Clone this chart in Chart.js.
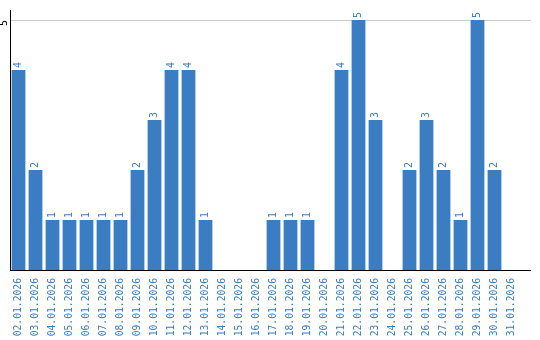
<!DOCTYPE html>
<html><head><meta charset="utf-8">
<script src="https://cdn.jsdelivr.net/npm/chart.js@4"></script>
<style>html,body{margin:0;padding:0;background:#fff}#wrap{width:540px;height:340px}</style>
</head><body><div id="wrap"><canvas id="c"></canvas></div>
<script>
const categories = ["02.01.2026","03.01.2026","04.01.2026","05.01.2026","06.01.2026","07.01.2026","08.01.2026","09.01.2026","10.01.2026","11.01.2026","12.01.2026","13.01.2026","14.01.2026","15.01.2026","16.01.2026","17.01.2026","18.01.2026","19.01.2026","20.01.2026","21.01.2026","22.01.2026","23.01.2026","24.01.2026","25.01.2026","26.01.2026","27.01.2026","28.01.2026","29.01.2026","30.01.2026","31.01.2026"];
const values = [4,2,1,1,1,1,1,2,3,4,4,1,0,0,0,1,1,1,0,4,5,3,0,2,3,2,1,5,2,0];
const yTicks = [5];

const FONT = "'DejaVu Sans Mono', monospace";
const BLUE = "#3b7dc2";
const LINE_END = 531;

const extPlugin = {
  id: 'ext',
  beforeDatasetsDraw(chart) {
    const ctx = chart.ctx, a = chart.chartArea, y = chart.scales.y;
    ctx.save();
    ctx.lineWidth = 1;
    ctx.strokeStyle = '#cccccc';
    yTicks.forEach(t => {
      const py = Math.round(y.getPixelForValue(t)) + 0.5;
      ctx.beginPath(); ctx.moveTo(a.right, py); ctx.lineTo(LINE_END, py); ctx.stroke();
    });
    ctx.strokeStyle = '#000';
    const by = Math.round(a.bottom) + 0.5;
    ctx.beginPath(); ctx.moveTo(a.right, by); ctx.lineTo(LINE_END, by); ctx.stroke();
    ctx.restore();
  }
};

const labelPlugin = {
  id: 'vlabels',
  afterDatasetsDraw(chart) {
    const ctx = chart.ctx;
    const meta = chart.getDatasetMeta(0);
    ctx.save();
    ctx.font = "10px " + FONT;
    ctx.fillStyle = BLUE;
    meta.data.forEach((bar, i) => {
      const v = values[i];
      if (!v) return;
      ctx.save();
      ctx.translate(bar.x, bar.y - 2);
      ctx.rotate(-Math.PI / 2);
      ctx.textAlign = 'left';
      ctx.textBaseline = 'middle';
      ctx.fillText(String(v), 0, 0);
      ctx.restore();
    });
    const y = chart.scales.y;
    ctx.fillStyle = "#000";
    yTicks.forEach(t => {
      ctx.save();
      ctx.translate(4.5, y.getPixelForValue(t) + 3);
      ctx.rotate(-Math.PI / 2);
      ctx.textAlign = 'center';
      ctx.textBaseline = 'middle';
      ctx.fillText(String(t), 0, 0);
      ctx.restore();
    });
    ctx.restore();
  }
};

new Chart(document.getElementById('c'), {
  type: 'bar',
  data: { labels: categories, datasets: [{ data: values, backgroundColor: BLUE, barPercentage: 0.9, categoryPercentage: 0.9 }] },
  options: {
    responsive: true, maintainAspectRatio: false, animation: false,
    layout: { padding: { left: 0, right: 20, top: 10, bottom: 0 } },
    plugins: { legend: { display: false }, tooltip: { enabled: false } },
    scales: {
      x: {
        afterFit(s) { s.height = 70; },
        grid: { display: false, drawTicks: false },
        border: { display: true, color: '#000', width: 1 },
        ticks: { color: BLUE, font: { family: FONT, size: 9.7 }, minRotation: 90, maxRotation: 90, padding: 8, autoSkip: false }
      },
      y: {
        min: 0, max: 5.2,
        afterBuildTicks(s) { s.ticks = yTicks.map(v => ({ value: v })); },
        afterFit(s) { s.width = 10; },
        grid: { color: '#cccccc', drawTicks: false },
        border: { display: true, color: '#000', width: 1 },
        ticks: { display: false }
      }
    }
  },
  plugins: [extPlugin, labelPlugin]
});
</script></body></html>
